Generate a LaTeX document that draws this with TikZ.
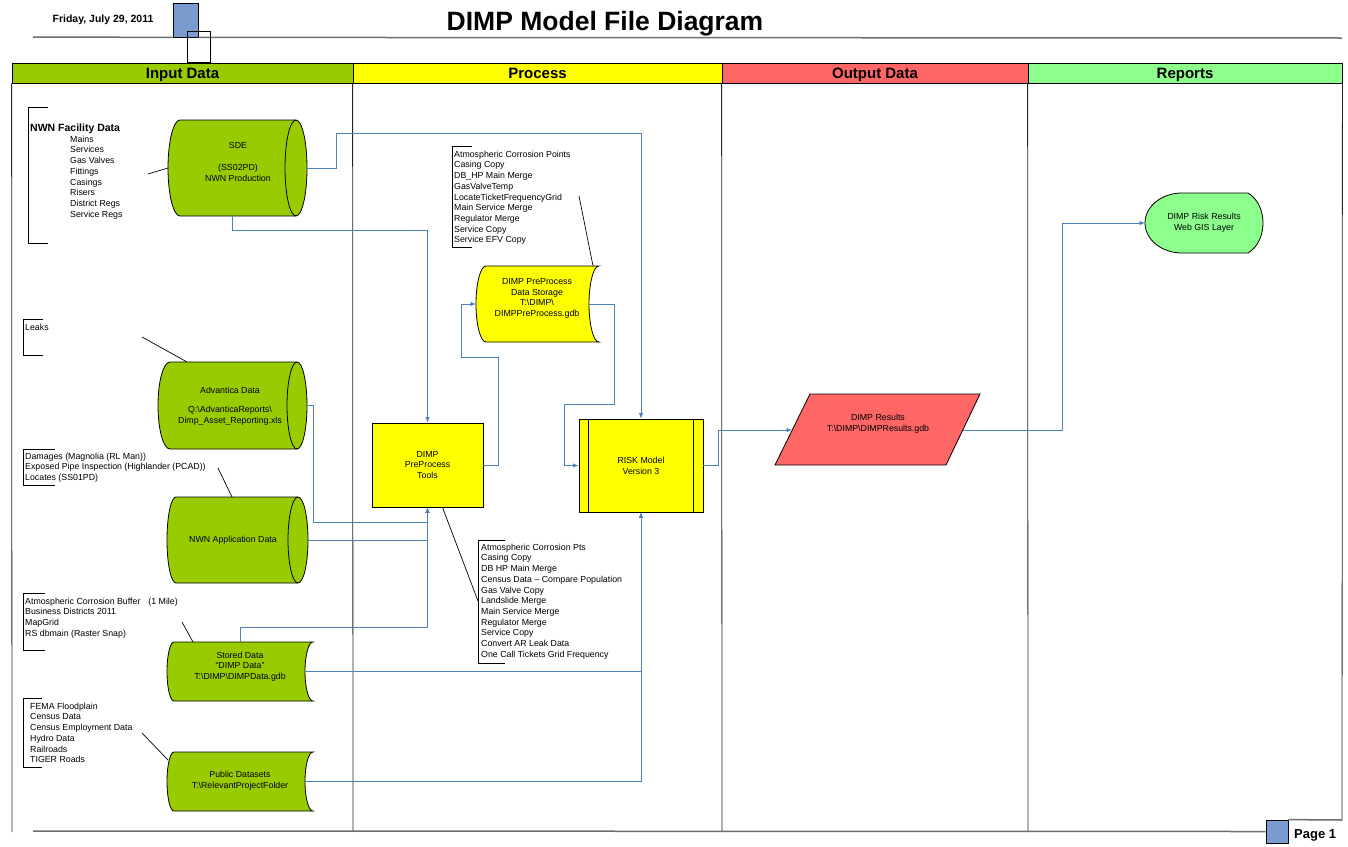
\documentclass[tikz,border=0pt]{standalone}
\usepackage{fontspec}
\setmainfont{Liberation Sans}
\usetikzlibrary{arrows.meta}

\definecolor{flowblue}{RGB}{79,129,189}
\definecolor{ingreen}{RGB}{153,204,0}
\definecolor{procyellow}{RGB}{255,255,0}
\definecolor{outred}{RGB}{255,102,102}
\definecolor{repgreen}{RGB}{140,255,140}
\definecolor{tabblue}{RGB}{122,155,206}
\definecolor{rulegrey}{RGB}{110,110,110}

% horizontal drum (direct access storage): fill, left x, right x, top y, half height, left bulge, end radius
\newcommand\drumshape[7]{%
  \filldraw[outline, fill=#1] (#2,#4) -- (#3,#4)
    arc[start angle=90, end angle=-90, x radius=#7pt, y radius=#5pt]
    -- (#2,{#4+2*#5})
    arc[start angle=-90, end angle=-270, x radius=#6pt, y radius=#5pt] -- cycle;
  \draw[outline] (#3,#4) arc[start angle=90, end angle=270, x radius=#7pt, y radius=#5pt];
}
% stored data symbol: fill, left x, right x, top y, half height, left bulge, right hollow
\newcommand\storedshape[7]{%
  \filldraw[outline, fill=#1] (#2,#4) -- (#3,#4)
    arc[start angle=90, end angle=270, x radius=#7pt, y radius=#5pt]
    -- (#2,{#4+2*#5})
    arc[start angle=-90, end angle=-270, x radius=#6pt, y radius=#5pt] -- cycle;
}
% annotation bracket: x, top y, bottom y, stub end x
\newcommand\bracketmark[4]{%
  \draw[bracket] (#4,#2) -- (#1,#2) -- (#1,#3) -- (#4,#3);
}

\begin{document}
\begin{tikzpicture}[x=1pt,y=-1pt,
  outline/.style={draw=black, line width=0.8pt},
  frameline/.style={draw=black!85, line width=0.8pt},
  greyrule/.style={draw=rulegrey, line width=1.5pt},
  flow/.style={draw=flowblue, line width=0.9pt, -{Latex[length=5.5pt,width=4.5pt]}},
  leader/.style={draw=black, line width=0.7pt},
  bracket/.style={draw=black, line width=0.9pt},
  body/.style={font=\fontsize{8.8}{10.7}\selectfont},
  listtext/.style={body, anchor=north west, align=left, inner sep=0pt},
  shapetext/.style={body, align=center, inner sep=0pt},
  lanehead/.style={draw=black, line width=0.8pt, minimum height=20pt, inner sep=0pt,
    text height=10.7pt, text depth=0pt, font=\fontsize{15}{18}\selectfont\bfseries},
  procbox/.style={outline, fill=procyellow, inner sep=0pt, align=center, body},
]
\useasboundingbox[fill=white] (0,0) rectangle (1348,846);

% ---- page header ----
\node[draw=black, line width=0.8pt, fill=tabblue, minimum width=25pt, minimum height=34pt, inner sep=0pt] (datetab) at (185.5,20) {};
\draw[greyrule] (33,37) -- (datetab.south west);
\draw[greyrule] (datetab.south east) -- (1342,38);
\node[draw=black, line width=0.8pt, minimum width=23pt, minimum height=31pt, inner sep=0pt] (datetabshadow) at (198.5,46.5) {};
\node[anchor=base, font=\fontsize{10.5}{12}\selectfont\bfseries, inner sep=0pt] (date) at (103,22) {Friday, July 29, 2011};
\node[anchor=base, font=\fontsize{26.5}{30}\selectfont\bfseries, inner sep=0pt] (title) at (605,30) {DIMP Model File Diagram};

% ---- swimlane headers and borders ----
\node[lanehead, fill=ingreen, minimum width=341pt] (laneIn) at (182.5,73) {Input Data};
\node[lanehead, fill=procyellow, minimum width=369pt] (laneProc) at (537.5,73) {Process};
\node[lanehead, fill=outred, minimum width=306pt] (laneOut) at (875,73) {Output Data};
\node[lanehead, fill=repgreen, minimum width=314pt] (laneRep) at (1185,73) {Reports};
\draw[frameline] (laneIn.south west) -- (12,832);
\draw[frameline] (laneProc.south west) -- (353,832);
\draw[frameline] (laneOut.south west) -- (722,832);
\draw[frameline] (laneRep.south west) -- (1028,832);
\draw[frameline] (laneRep.south east) -- (1342,820);

% ---- page footer ----
\node[draw=black, line width=0.8pt, fill=tabblue, minimum width=22pt, minimum height=23pt, inner sep=0pt] (pagetab) at (1277,831.5) {};
\draw[greyrule] (33,831) -- (pagetab.west);
\draw[greyrule] (pagetab.north east) -- (1342,820);
\node[anchor=base west, font=\fontsize{13}{15}\selectfont\bfseries, inner sep=0pt] (pagelabel) at (1294,838.5) {Page 1};

% ---- input data stores ----
\drumshape{ingreen}{180}{296}{120}{48}{12}{11}
\node[shapetext] (sde) at (238,162) {SDE\\[10.7pt](SS02PD)\\NWN Production};
\coordinate (sde-l) at (168,168);
\coordinate (sde-r) at (307,168);
\coordinate (sde-b) at (232,216);

\drumshape{ingreen}{170}{297}{362}{43.5}{12}{10}
\node[shapetext] (advantica) at (230,406) {Advantica Data\\[9pt]Q:\textbackslash AdvanticaReports\textbackslash\\Dimp\_Asset\_Reporting.xls};
\coordinate (adv-t) at (187,362);
\coordinate (adv-r) at (307,405.5);

\drumshape{ingreen}{176}{298}{497}{43}{9}{10}
\node[shapetext] (nwnapp) at (233,540) {NWN Application Data};
\coordinate (app-t) at (232,497);
\coordinate (app-r) at (308,540);

\storedshape{ingreen}{174}{313}{642}{29.5}{7}{8}
\node[shapetext] (stored) at (240,666.5) {Stored Data\\“DIMP Data”\\T:\textbackslash DIMP\textbackslash DIMPData.gdb};
\coordinate (stored-t) at (240,642);
\coordinate (stored-tl) at (193,642);
\coordinate (stored-r) at (305,671.5);

\storedshape{ingreen}{174}{313}{752}{29.5}{7}{8}
\node[shapetext] (public) at (240,781) {Public Datasets\\T:\textbackslash RelevantProjectFolder};
\coordinate (public-l) at (168,760);
\coordinate (public-r) at (305,781.5);

% ---- process ----
\storedshape{procyellow}{486}{599}{266}{38}{10}{10}
\node[shapetext] (storage) at (537,298.5) {DIMP PreProcess\\Data Storage\\T:\textbackslash DIMP\textbackslash\\DIMPPreProcess.gdb};
\coordinate (storage-t) at (593,266);
\coordinate (storage-l) at (476,304);
\coordinate (storage-r) at (589,304);

\node[procbox, minimum width=111pt, minimum height=84pt] (tools) at (427.5,465) {DIMP\\PreProcess\\Tools};
\node[procbox, minimum width=124pt, minimum height=93pt] (risk) at (641,465.5) {RISK Model\\Version 3};
\draw[outline] ([xshift=10pt]risk.north west) -- ([xshift=10pt]risk.south west);
\draw[outline] ([xshift=-10pt]risk.north east) -- ([xshift=-10pt]risk.south east);

% ---- output and report ----
\filldraw[outline, fill=outred] (810,394) -- (980,394) -- (946,465) -- (775,465) -- cycle;
\node[shapetext] (results) at (878,424) {DIMP Results\\T:\textbackslash DIMP\textbackslash DIMPResults.gdb};
\coordinate (results-in) at (792,430);
\coordinate (results-out) at (963,430);

\filldraw[outline, fill=repgreen] (1182,193) -- (1248,193) .. controls (1268,205) and (1268,241) .. (1248,253)
  -- (1182,253) arc[start angle=-90, end angle=-270, x radius=37pt, y radius=30pt] -- cycle;
\node[shapetext] (gis) at (1204,222.5) {DIMP Risk Results\\Web GIS Layer};
\coordinate (gis-in) at (1145,223);

% ---- annotations ----
\node[anchor=base west, font=\fontsize{10.5}{12}\selectfont\bfseries, inner sep=0pt] (facility) at (30,131) {NWN Facility Data};
\node[listtext] (facilitylist) at (70,135.7) {Mains\\Services\\Gas Valves\\Fittings\\Casings\\Risers\\District Regs\\Service Regs};
\bracketmark{28}{107}{243}{48}
\coordinate (facility-tip) at (148,174);

\node[listtext] (leaks) at (25,323.7) {Leaks};
\bracketmark{23}{319}{355}{43}
\coordinate (leaks-tip) at (142,337);

\node[listtext] (damages) at (25,452.7) {Damages (Magnolia (RL Man))\\Exposed Pipe Inspection (Highlander (PCAD))\\Locates (SS01PD)};
\bracketmark{23}{449}{485}{55}
\coordinate (damages-tip) at (218,468);

\node[listtext] (bufferlist) at (25,597.7) {Atmospheric Corrosion Buffer\hspace{8pt}(1 Mile)\\Business Districts 2011\\MapGrid\\RS dbmain (Raster Snap)};
\bracketmark{23}{593}{650}{45}
\coordinate (buffer-tip) at (182,622);

\node[listtext] (publiclist) at (30,702.7) {FEMA Floodplain\\Census Data\\Census Employment Data\\Hydro Data\\Railroads\\TIGER Roads};
\bracketmark{23}{698}{767}{42}
\coordinate (publiclist-tip) at (142,733);

\node[listtext] (storagelist) at (454,150.7) {Atmospheric Corrosion Points\\Casing Copy\\DB\_HP Main Merge\\GasValveTemp\\LocateTicketFrequencyGrid\\Main Service Merge\\Regulator Merge\\Service Copy\\Service EFV Copy};
\bracketmark{452}{146}{247}{472}
\coordinate (storagelist-tip) at (579,196);

\node[listtext] (toolslist) at (481,543.7) {Atmospheric Corrosion Pts\\Casing Copy\\DB HP Main Merge\\Census Data -- Compare Population\\Gas Valve Copy\\Landslide Merge\\Main Service Merge\\Regulator Merge\\Service Copy\\Convert AR Leak Data\\One Call Tickets Grid Frequency};
\bracketmark{478}{540}{663}{505}
\coordinate (toolslist-tip) at (478,601);

% leader lines
\draw[leader] (facility-tip) -- (sde-l);
\draw[leader] (leaks-tip) -- (adv-t);
\draw[leader] (damages-tip) -- (app-t);
\draw[leader] (buffer-tip) -- (stored-tl);
\draw[leader] (publiclist-tip) -- (public-l);
\draw[leader] (storagelist-tip) -- (storage-t);
\draw[leader] ([xshift=15pt]tools.south) -- (toolslist-tip);

% ---- data flows ----
\draw[flow] (sde-r) -- (336,168) -- (336,133) -| (risk.north);
\draw[flow] (sde-b) -- (232,230) -| (tools.north);
\draw[flow] (adv-r) -| (313,522) -| (tools.south);
\draw[flow] (app-r) -| (tools.south);
\draw[flow] (stored-t) -- (240,627) -| (tools.south);
\draw[flow] (stored-r) -| (risk.south);
\draw[flow] (public-r) -| (risk.south);
\draw[flow] (tools.east) -- (498,465) -- (498,357) -- (461,357) |- (storage-l);
\draw[flow] (storage-r) -- (614,304) -- (614,404) -- (564,404) |- (risk.west);
\draw[flow] (risk.east) -- (718,465.5) |- (results-in);
\draw[flow] (results-out) -- (1062,430) |- (gis-in);
\end{tikzpicture}
\end{document}
